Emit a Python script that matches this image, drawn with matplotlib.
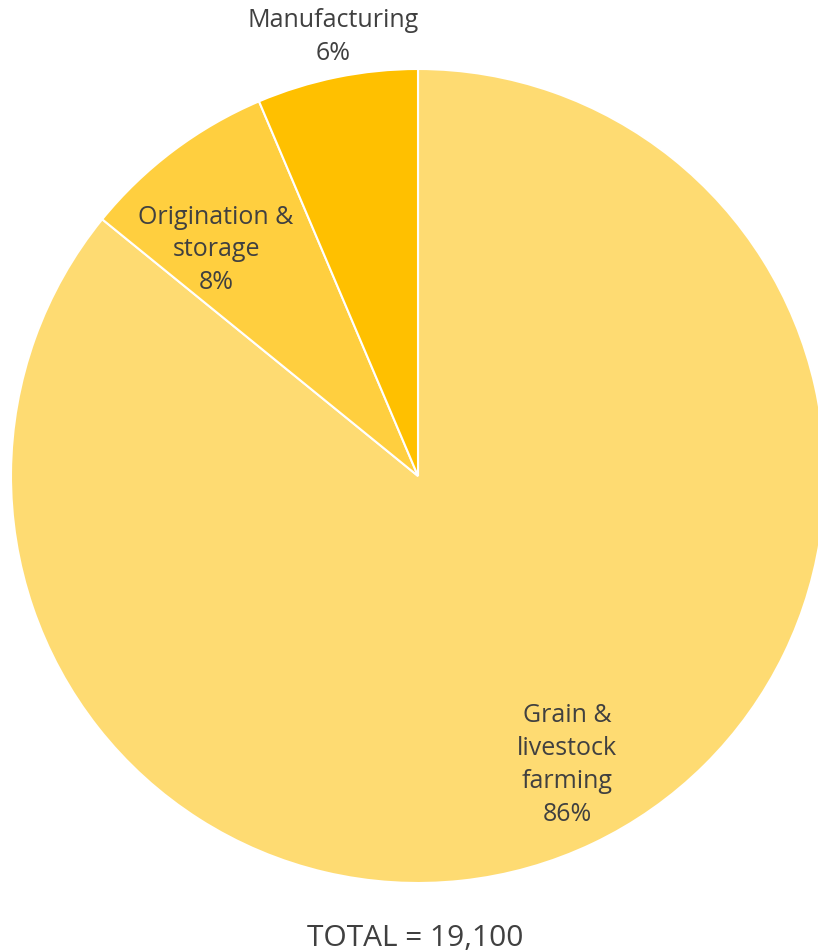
import matplotlib.pyplot as plt

segments = ['Grain &\nlivestock\nfarming', 'Origination &\nstorage', 'Manufacturing']
employment = [16400, 1480, 1220]
colors = ['#FEDB72', '#FFCF3F', '#FFC000']
# label centres in pie units (radius = 1)
label_xy = [(0.366, -0.708), (-0.496, 0.558), (-0.209, 1.081)]

total = sum(employment)

plt.rcParams['font.family'] = ['Open Sans', 'DejaVu Sans']
text_color = '#404040'

fig = plt.figure(figsize=(8.18, 9.53), dpi=100)
W, H = 818, 953
cx, cy, r = 418, 953 - 477, 407
ax = fig.add_axes([(cx - r) / W, (cy - r) / H, 2 * r / W, 2 * r / H])

wedges, _ = ax.pie(employment, colors=colors, startangle=90, counterclock=False,
                   radius=1.0, wedgeprops=dict(edgecolor='white', linewidth=1.5))
ax.set_xlim(-1, 1)
ax.set_ylim(-1, 1)
ax.set_aspect('equal')
ax.axis('off')

for name, val, (x, y) in zip(segments, employment, label_xy):
    pct = round(val / total * 100)
    ax.text(x, y, f'{name}\n{pct}%', ha='center', va='center', fontsize=18,
            color=text_color, linespacing=1.41, clip_on=False)

fig.text(415 / W, 1 - 939 / H, f'TOTAL = {total:,}', ha='center', va='center',
         fontsize=21.5, color=text_color)

fig.savefig('out.png', dpi=100)
